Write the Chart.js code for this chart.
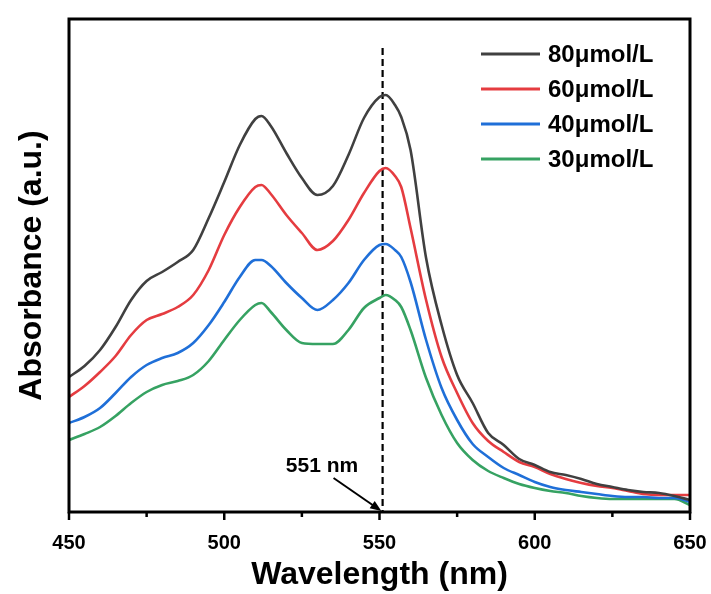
<!DOCTYPE html>
<html>
<head>
<meta charset="utf-8">
<script src="https://cdn.jsdelivr.net/npm/chart.js@4.4.1/dist/chart.umd.min.js"></script>
<style>
    html, body { margin: 0; padding: 0; background: #fff; }
    #chart { display: block; }
</style>
</head>
<body>
<canvas id="chart" width="711" height="594"></canvas>
<script>
// wavelengths (nm), shared by all four spectra
var wavelengths = [450, 455, 460, 465, 470, 475, 480, 485, 490, 495, 500, 505, 510, 512, 515, 520, 525, 530, 535,
    540, 545, 550, 552, 555, 557, 560, 565, 570, 575, 580, 585, 590, 595, 600, 605, 610, 615, 620, 625, 630, 635,
    640, 645, 650];

// absorbance, arbitrary units
var abs80 = [1.35, 1.46, 1.62, 1.85, 2.12, 2.31, 2.40, 2.50, 2.62, 2.94, 3.30, 3.67, 3.93, 3.96, 3.86, 3.59, 3.34,
    3.17, 3.26, 3.57, 3.94, 4.15, 4.17, 4.07, 3.95, 3.62, 2.54, 1.87, 1.37, 1.09, 0.79, 0.67, 0.53, 0.47, 0.40, 0.37,
    0.33, 0.28, 0.25, 0.22, 0.20, 0.19, 0.16, 0.12];
var abs60 = [1.15, 1.26, 1.40, 1.56, 1.77, 1.92, 1.98, 2.05, 2.17, 2.42, 2.77, 3.05, 3.25, 3.27, 3.18, 2.97, 2.79,
    2.62, 2.71, 2.92, 3.19, 3.41, 3.44, 3.36, 3.25, 2.84, 2.12, 1.55, 1.19, 0.89, 0.71, 0.60, 0.50, 0.45, 0.38, 0.33,
    0.29, 0.26, 0.24, 0.21, 0.18, 0.17, 0.17, 0.17];
var abs40 = [0.89, 0.95, 1.04, 1.19, 1.35, 1.47, 1.54, 1.59, 1.69, 1.87, 2.10, 2.35, 2.52, 2.52, 2.46, 2.29, 2.14,
    2.02, 2.12, 2.29, 2.52, 2.67, 2.68, 2.62, 2.55, 2.30, 1.72, 1.24, 0.92, 0.68, 0.55, 0.44, 0.37, 0.30, 0.25, 0.22,
    0.20, 0.18, 0.16, 0.15, 0.15, 0.14, 0.14, 0.10];
var abs30 = [0.72, 0.78, 0.85, 0.96, 1.09, 1.20, 1.27, 1.31, 1.37, 1.51, 1.72, 1.92, 2.07, 2.09, 2.00, 1.82, 1.69,
    1.68, 1.68, 1.82, 2.04, 2.14, 2.17, 2.12, 2.05, 1.82, 1.34, 0.97, 0.69, 0.52, 0.41, 0.34, 0.28, 0.24, 0.21, 0.19,
    0.16, 0.14, 0.13, 0.13, 0.13, 0.13, 0.13, 0.07];

var seriesLabels = ["80\u03bcmol/L", "60\u03bcmol/L", "40\u03bcmol/L", "30\u03bcmol/L"];
var seriesColors = ["#404040", "#e53c40", "#1f6fd8", "#36a262"];
var xTickLabels = [450, 500, 550, 600, 650];

// marked peak and its annotation
var peakNm = 551;
var peakLineTop = 4.64;
var peakText = "551 nm";
var peakTextAt = [531.5, 0.46];
var arrowFrom = [535.2, 0.34];
var arrowTo = [550.6, 0.01];

var FONT = "'Liberation Sans', Arial, sans-serif";
Chart.defaults.font.family = FONT;
Chart.defaults.color = "#000";

function toPoints(values) {
    var pts = [];
    for (var i = 0; i < wavelengths.length; i++) {
        pts.push({x: wavelengths[i], y: values[i]});
    }
    return pts;
}

var allSeries = [abs80, abs60, abs40, abs30];
var datasets = [];
for (var s = 0; s < allSeries.length; s++) {
    datasets.push({
        label: seriesLabels[s],
        data: toPoints(allSeries[s]),
        borderColor: seriesColors[s],
        borderWidth: 2.6,
        pointRadius: 0,
        fill: false,
        cubicInterpolationMode: "monotone"
    });
}
// dashed marker at the 551 nm peak
datasets.push({
    label: "peak",
    data: [{x: peakNm, y: peakLineTop}, {x: peakNm, y: 0}],
    borderColor: "#000",
    borderWidth: 2.2,
    borderDash: [7, 4],
    pointRadius: 0,
    fill: false
});

var framePlugin = {
    id: "frame",
    afterDraw: function (chart) {
        var ctx = chart.ctx;
        var area = chart.chartArea;
        var xs = chart.scales.x;
        var ys = chart.scales.y;
        ctx.save();

        // box
        ctx.strokeStyle = "#000";
        ctx.lineWidth = 3;
        ctx.strokeRect(area.left, area.top, area.right - area.left, area.bottom - area.top);

        // outward ticks, major every 50 nm, minor in between
        ctx.lineWidth = 2.5;
        xs.ticks.forEach(function (t) {
            var px = xs.getPixelForValue(t.value);
            var len = (t.value % 50 === 0) ? 8 : 5;
            ctx.beginPath();
            ctx.moveTo(px, area.bottom);
            ctx.lineTo(px, area.bottom + len);
            ctx.stroke();
        });

        // legend
        ctx.font = "bold 24px " + FONT;
        ctx.textBaseline = "middle";
        ctx.textAlign = "left";
        for (var i = 0; i < seriesLabels.length; i++) {
            var ly = 54 + i * 35;
            ctx.strokeStyle = seriesColors[i];
            ctx.lineWidth = 3;
            ctx.beginPath();
            ctx.moveTo(481, ly);
            ctx.lineTo(540, ly);
            ctx.stroke();
            ctx.fillStyle = "#000";
            ctx.fillText(seriesLabels[i], 548, ly + 1);
        }

        // peak annotation
        ctx.font = "bold 21px " + FONT;
        ctx.textAlign = "center";
        ctx.fillText(peakText, xs.getPixelForValue(peakTextAt[0]), ys.getPixelForValue(peakTextAt[1]));

        var x1 = xs.getPixelForValue(arrowFrom[0]), y1 = ys.getPixelForValue(arrowFrom[1]);
        var x2 = xs.getPixelForValue(arrowTo[0]), y2 = ys.getPixelForValue(arrowTo[1]);
        var ang = Math.atan2(y2 - y1, x2 - x1);
        ctx.strokeStyle = "#000";
        ctx.lineWidth = 2;
        ctx.beginPath();
        ctx.moveTo(x1, y1);
        ctx.lineTo(x2 - 8 * Math.cos(ang), y2 - 8 * Math.sin(ang));
        ctx.stroke();
        ctx.beginPath();
        ctx.moveTo(x2, y2);
        ctx.lineTo(x2 - 12 * Math.cos(ang - 0.38), y2 - 12 * Math.sin(ang - 0.38));
        ctx.lineTo(x2 - 12 * Math.cos(ang + 0.38), y2 - 12 * Math.sin(ang + 0.38));
        ctx.closePath();
        ctx.fillStyle = "#000";
        ctx.fill();
        ctx.restore();
    }
};

var chart = new Chart(document.getElementById("chart").getContext("2d"), {
    type: "line",
    data: {datasets: datasets},
    options: {
        responsive: false,
        animation: false,
        devicePixelRatio: 1,
        layout: {padding: {top: 19, right: 21, left: 0, bottom: 0}},
        plugins: {legend: {display: false}, tooltip: {enabled: false}},
        scales: {
            x: {
                type: "linear",
                min: 450,
                max: 650,
                grid: {display: false},
                border: {display: false},
                ticks: {
                    stepSize: 25,
                    autoSkip: false,
                    maxRotation: 0,
                    padding: 11,
                    font: {size: 20, weight: "bold"},
                    color: "#000",
                    callback: function (v) {
                        return xTickLabels.indexOf(v) >= 0 ? String(v) : "";
                    }
                },
                title: {
                    display: true,
                    text: "Wavelength (nm)",
                    font: {size: 32, weight: "bold"},
                    color: "#000",
                    padding: {top: 0, bottom: 0}
                },
                afterFit: function (scale) {
                    scale.height = 82;
                    scale.paddingLeft = 0;
                    scale.paddingRight = 0;
                }
            },
            y: {
                min: 0,
                max: 4.93,
                grid: {display: false},
                border: {display: false},
                ticks: {display: false},
                title: {
                    display: true,
                    text: "Absorbance (a.u.)",
                    font: {size: 32, weight: "bold"},
                    color: "#000",
                    padding: {top: 13, bottom: 0}
                },
                afterFit: function (scale) { scale.width = 69; }
            }
        }
    },
    plugins: [framePlugin]
});
</script>
</body>
</html>
